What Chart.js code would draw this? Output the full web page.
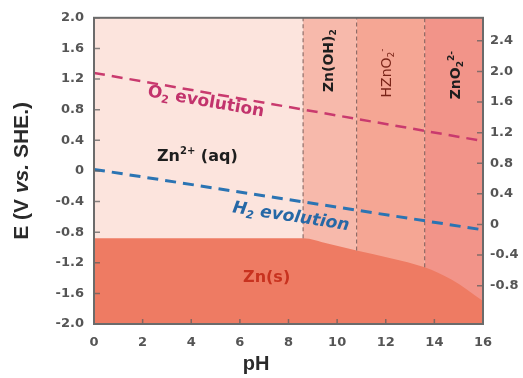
<!DOCTYPE html>
<html lang="en">
<head>
<meta charset="UTF-8">
<title>Zn Pourbaix Diagram</title>
<script src="https://cdn.jsdelivr.net/npm/chart.js"></script>
<style>
  body { margin: 0; background: #fff; }
</style>
</head>
<body>
<canvas id="pourbaix" width="523" height="378"></canvas>
<script>
// phase boundaries along pH (region edges)
const phaseEdges = [0, 8.6, 10.8, 13.6, 16];
const phaseNames = ['Zn2+ (aq)', 'Zn(OH)2', 'HZnO2-', 'ZnO2 2-'];

// Zn(s) stability boundary
const znSolidPH = [0, 8.6, 9.6, 10.8, 12.2, 13.6, 14.7, 16];
const znSolidE = [-0.88, -0.88, -0.95, -1.04, -1.14, -1.26, -1.42, -1.70];

// water stability lines
const o2PH = [0, 16];
const o2E = [1.28, 0.39];
const h2PH = [0, 16];
const h2E = [0.02, -0.77];

// axis ticks
const leftTicks = [2.0, 1.6, 1.2, 0.8, 0.4, 0, -0.4, -0.8, -1.2, -1.6, -2.0];
const rightTicks = [2.4, 2.0, 1.6, 1.2, 0.8, 0.4, 0, -0.4, -0.8];
const rightOffset = 0.7;  // right scale shifted relative to SHE

const phaseColors = ['#fce4dd', '#f7b9ab', '#f5a694', '#f29489'];
const solidColor = '#ee7b63';

const zip = (xs, ys) => xs.map((x, i) => ({ x: x, y: ys[i] }));
const fmt = v => Math.abs(v) < 1e-9 ? '0' : v.toFixed(1);
const tickFont = { family: 'DejaVu Sans', weight: 'bold', size: 13 };

// boundary E at a given pH (for the dashed dividers)
function solidEAt(ph) {
  for (let i = 1; i < znSolidPH.length; i++) {
    if (ph <= znSolidPH[i]) {
      const t = (ph - znSolidPH[i - 1]) / (znSolidPH[i] - znSolidPH[i - 1]);
      return znSolidE[i - 1] + t * (znSolidE[i] - znSolidE[i - 1]);
    }
  }
  return znSolidE[znSolidE.length - 1];
}

const dividers = phaseEdges.slice(1, -1).map(ph => ({
  type: 'line',
  data: [{ x: ph, y: solidEAt(ph) }, { x: ph, y: 2 }],
  borderColor: 'rgba(110,80,78,0.75)',
  borderWidth: 1.2,
  borderDash: [4, 3],
  pointRadius: 0,
  fill: false,
  order: 2
}));

// draws a string made of normal / sub / sup pieces, centred on (x, y)
function drawRich(ctx, parts, x, y, size, family, weight, color, angle) {
  ctx.save();
  ctx.translate(x, y);
  ctx.rotate(angle * Math.PI / 180);
  ctx.fillStyle = color;
  ctx.textBaseline = 'middle';
  ctx.textAlign = 'left';
  const fontFor = p => `${p.it ? 'italic ' : ''}${weight} ${p.sub || p.sup ? Math.round(size * 0.62) : size}px ${family}`;
  let w = 0;
  parts.forEach(p => { ctx.font = fontFor(p); w += ctx.measureText(p.t).width; });
  let cx = -w / 2;
  parts.forEach(p => {
    ctx.font = fontFor(p);
    const dy = p.sub ? size * 0.3 : p.sup ? -size * 0.32 : 0;
    ctx.fillText(p.t, cx, dy);
    cx += ctx.measureText(p.t).width;
  });
  ctx.restore();
}

// background colour bands for each dissolved / hydroxide phase
const phaseBands = {
  id: 'phaseBands',
  beforeDatasetsDraw(chart) {
    const { ctx, chartArea, scales } = chart;
    ctx.save();
    for (let i = 0; i < phaseColors.length; i++) {
      const x0 = scales.x.getPixelForValue(phaseEdges[i]);
      const x1 = scales.x.getPixelForValue(phaseEdges[i + 1]);
      ctx.fillStyle = phaseColors[i];
      ctx.fillRect(x0, chartArea.top, x1 - x0, chartArea.bottom - chartArea.top);
    }
    ctx.restore();
  }
};

// frame, inward tick marks, region labels and axis titles
const decorations = {
  id: 'decorations',
  afterDatasetsDraw(chart) {
    const { ctx, chartArea: a, scales } = chart;
    const sx = scales.x, sy = scales.y;
    ctx.save();

    // labels on the diagram
    const slope = (xs, ys) => Math.atan2(
      sy.getPixelForValue(ys[1]) - sy.getPixelForValue(ys[0]),
      sx.getPixelForValue(xs[1]) - sx.getPixelForValue(xs[0])) * 180 / Math.PI;
    const P = (x, y) => [sx.getPixelForValue(x), sy.getPixelForValue(y)];
    const dv = 'DejaVu Sans';

    drawRich(ctx, [{ t: 'Zn' }, { t: '2+', sup: 1 }, { t: ' (aq)' }], ...P(4.25, 0.19), 16, dv, 'bold', '#1e1e1e', 0);
    drawRich(ctx, [{ t: 'O' }, { t: '2', sub: 1 }, { t: ' evolution' }], ...P(4.6, 0.9), 17, dv, 'bold', '#c2336c', slope(o2PH, o2E));
    drawRich(ctx, [{ t: 'H' }, { t: '2', sub: 1 }, { t: ' evolution' }], ...P(8.1, -0.6), 17, dv, 'italic bold', '#2668a6', slope(h2PH, h2E));
    drawRich(ctx, [{ t: 'Zn(s)' }], ...P(7.1, -1.4), 16, dv, 'bold', '#c8321f', 0);
    drawRich(ctx, [{ t: 'Zn(OH)' }, { t: '2', sub: 1 }], ...P(9.7, 1.44), 14, dv, 'bold', '#1e1e1e', -90);
    drawRich(ctx, [{ t: 'HZnO' }, { t: '2', sub: 1 }, { t: '-', sup: 1 }], ...P(12.05, 1.28), 14, dv, 'normal', '#7a2418', -90);
    drawRich(ctx, [{ t: 'ZnO' }, { t: '2', sub: 1 }, { t: '2-', sup: 1 }], ...P(14.9, 1.25), 14, dv, 'bold', '#1e1e1e', -90);

    // inward ticks
    ctx.strokeStyle = 'rgba(95,95,95,0.75)';
    ctx.lineWidth = 1.5;
    ctx.beginPath();
    leftTicks.forEach(v => {
      const y = sy.getPixelForValue(v);
      ctx.moveTo(a.left, y); ctx.lineTo(a.left + 6, y);
    });
    rightTicks.forEach(v => {
      const y = scales.y2.getPixelForValue(v);
      ctx.moveTo(a.right, y); ctx.lineTo(a.right - 6, y);
    });
    for (let v = 2; v < 16; v += 2) {
      const x = sx.getPixelForValue(v);
      ctx.moveTo(x, a.bottom); ctx.lineTo(x, a.bottom - 5);
    }
    ctx.stroke();

    // frame
    ctx.strokeStyle = '#6b6b6b';
    ctx.lineWidth = 2;
    ctx.strokeRect(a.left, a.top, a.right - a.left, a.bottom - a.top);

    // axis titles
    drawRich(ctx, [{ t: 'E (V ' }, { t: 'vs.', it: 1 }, { t: ' SHE.)' }], 22, (a.top + a.bottom) / 2, 21, 'Liberation Sans', 'bold', '#2a2a2a', -90);
    drawRich(ctx, [{ t: 'pH' }], 256, 364, 20, 'Liberation Sans', 'bold', '#2a2a2a', 0);
    ctx.restore();
  }
};

new Chart(document.getElementById('pourbaix'), {
  type: 'scatter',
  data: {
    datasets: [
      {
        type: 'line',
        label: 'O2 evolution',
        data: zip(o2PH, o2E),
        borderColor: '#c93a6e',
        borderWidth: 2.5,
        borderDash: [11, 7],
        pointRadius: 0,
        fill: false,
        order: 1
      },
      {
        type: 'line',
        label: 'H2 evolution',
        data: zip(h2PH, h2E),
        borderColor: '#2b74b3',
        borderWidth: 3,
        borderDash: [11, 7],
        pointRadius: 0,
        fill: false,
        order: 1
      },
      ...dividers,
      {
        type: 'line',
        label: 'Zn(s)',
        data: zip(znSolidPH, znSolidE),
        borderWidth: 0,
        borderColor: solidColor,
        backgroundColor: solidColor,
        pointRadius: 0,
        cubicInterpolationMode: 'monotone',
        fill: 'start',
        order: 3
      }
    ]
  },
  options: {
    responsive: false,
    animation: false,
    layout: { padding: { top: 17 } },
    plugins: { legend: { display: false }, tooltip: { enabled: false } },
    scales: {
      x: {
        type: 'linear', min: 0, max: 16,
        ticks: { stepSize: 2, font: tickFont, color: '#555', padding: 11, maxRotation: 0 },
        grid: { display: false, drawTicks: false },
        border: { display: false },
        afterFit: s => { s.height = 54; }
      },
      y: {
        position: 'left', min: -2, max: 2,
        afterBuildTicks: s => { s.ticks = leftTicks.map(v => ({ value: v })); },
        ticks: { callback: fmt, font: tickFont, color: '#555', padding: 10 },
        grid: { display: false, drawTicks: false },
        border: { display: false },
        afterFit: s => { s.width = 94; }
      },
      y2: {
        position: 'right', min: -2 + rightOffset, max: 2 + rightOffset,
        afterBuildTicks: s => { s.ticks = rightTicks.map(v => ({ value: v })); },
        ticks: { callback: fmt, font: tickFont, color: '#555', padding: 7 },
        grid: { display: false, drawTicks: false },
        border: { display: false },
        afterFit: s => { s.width = 40; }
      }
    }
  },
  plugins: [phaseBands, decorations]
});
</script>
</body>
</html>
